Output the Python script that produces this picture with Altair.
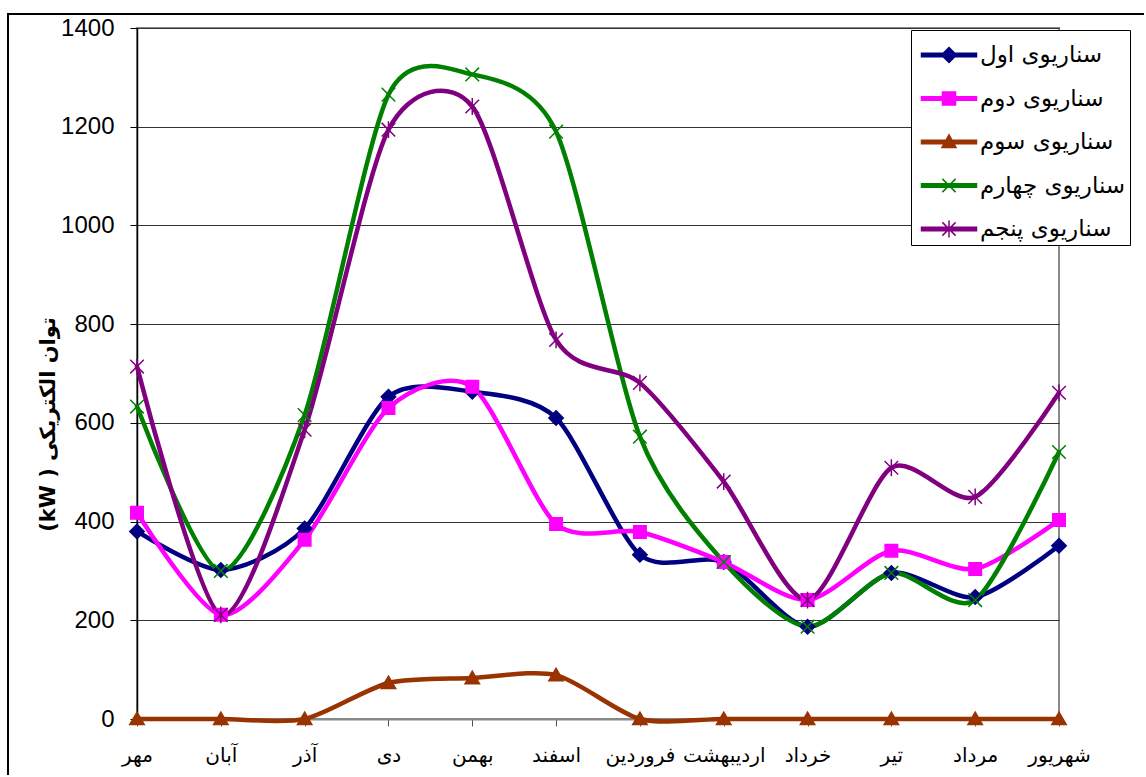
import altair as alt
import pandas as pd

# Months of the Persian calendar, in chart order
months = ["مهر", "آبان", "آذر", "دی", "بهمن", "اسفند",
          "فروردین", "اردیبهشت", "خرداد", "تیر", "مرداد", "شهریور"]

series_names = ["سناریوی اول", "سناریوی دوم", "سناریوی سوم",
                "سناریوی چهارم", "سناریوی پنجم"]

# Electrical power per month (kW) for each scenario
s1 = [380, 302, 386, 653, 663, 610, 333, 318, 187, 296, 247, 351]
s2 = [418, 211, 363, 630, 673, 395, 379, 318, 241, 341, 304, 403]
s3 = [0, 0, 0, 73, 83, 89, 0, 0, 0, 0, 0, 0]
s4 = [633, 300, 616, 1265, 1306, 1190, 572, 318, 187, 296, 241, 541]
s5 = [714, 211, 586, 1194, 1241, 768, 681, 481, 241, 509, 450, 661]

colors = ["#000080", "#FF00FF", "#993300", "#008000", "#800080"]

# Marker outlines: diamond, square, triangle, x, asterisk
marker_paths = [
    "M0,-0.9L0.9,0L0,0.9L-0.9,0Z",
    "M-0.78,-0.78H0.78V0.78H-0.78Z",
    "M0,-0.85L0.9,0.7L-0.9,0.7Z",
    "M-0.85,-0.85L0.85,0.85M-0.85,0.85L0.85,-0.85",
    "M-0.85,-0.85L0.85,0.85M-0.85,0.85L0.85,-0.85M0,-1.05V1.05",
]

# Legend swatches: a short line segment with the series marker on it
bar = "M-0.725,-0.09H2.025V0.09H-0.725Z"
legend_paths = [
    bar + "M0.65,-0.375L1.025,0L0.65,0.375L0.275,0Z",
    bar + "M0.325,-0.325H0.975V0.325H0.325Z",
    bar + "M0.65,-0.36L1.0,0.27L0.3,0.27Z",
    bar + "M0.32,-0.33L0.98,0.33M0.32,0.33L0.98,-0.33",
    bar + "M0.32,-0.33L0.98,0.33M0.32,0.33L0.98,-0.33M0.65,-0.42V0.42",
]

rows = []
for name, vals in zip(series_names, [s1, s2, s3, s4, s5]):
    for m, v in zip(months, vals):
        rows.append({"month": m, "series": name, "value": v})
df = pd.DataFrame(rows)

x_enc = alt.X("month:N", sort=months, scale=alt.Scale(padding=0),
              axis=alt.Axis(title=None, labelAngle=0, labelFontSize=20,
                            labelFont="DejaVu Sans", labelColor="black",
                            tickSize=7, tickColor="#555", domainColor="#888",
                            domainWidth=2, labelPadding=19, grid=False))
y_enc = alt.Y("value:Q", scale=alt.Scale(domain=[0, 1400], nice=False),
              axis=alt.Axis(values=[0, 200, 400, 600, 800, 1000, 1200, 1400],
                            format="d",
                            title="(kW ) توان الکتریکی", titleFont="DejaVu Sans",
                            titleFontSize=21, titleFontWeight="bold",
                            titleColor="black", titleAngle=-90,
                            titleBaseline="middle", titleAlign="center",
                            titleX=-89, titleY=396,
                            labelFont="Liberation Sans", labelFontSize=24,
                            labelColor="black", labelPadding=16,
                            tickSize=7, tickColor="black",
                            domainColor="black", domainWidth=1.5,
                            grid=True, gridColor="#333", gridWidth=1))

color_scale = alt.Scale(domain=series_names, range=colors)

frame = alt.Chart(df).mark_rect(fill=None, stroke="black", strokeWidth=1.5).encode(
    x=alt.value(-129), y=alt.value(-14), x2=alt.value(2000), y2=alt.value(2000)
)

lines = alt.Chart(df).mark_line(
    interpolate="cardinal", tension=0.22, strokeWidth=4.5,
    strokeCap="round", strokeJoin="round"
).encode(
    x=x_enc, y=y_enc,
    color=alt.Color("series:N", scale=color_scale, legend=None),
)

points = alt.Chart(df).mark_point(filled=True, size=256, strokeWidth=1.5, opacity=1).encode(
    x=x_enc, y=y_enc,
    color=alt.Color("series:N", scale=color_scale, legend=None),
    stroke=alt.Stroke("series:N", scale=color_scale, legend=None),
    shape=alt.Shape("series:N", scale=alt.Scale(domain=series_names, range=marker_paths),
                    legend=None),
)

legend_def = alt.Legend(
    title=None, orient="none", legendX=774, legendY=2,
    strokeColor="black", fillColor="white", padding=4,
    labelFont="DejaVu Sans", labelFontSize=23, labelColor="black",
    labelLimit=400, labelOffset=23,
    symbolSize=1600, symbolStrokeWidth=1.5, rowPadding=10.5,
)

legend_layer = alt.Chart(df).transform_filter("datum.value < -1").mark_point(
    filled=True, strokeWidth=1.5, opacity=1
).encode(
    x=x_enc, y=y_enc,
    color=alt.Color("series:N", scale=color_scale, legend=legend_def),
    stroke=alt.Stroke("series:N", scale=color_scale, legend=legend_def),
    shape=alt.Shape("series:N", scale=alt.Scale(domain=series_names, range=legend_paths),
                    legend=legend_def),
)

chart = alt.layer(frame, lines, points, legend_layer).resolve_scale(
    color="independent", shape="independent", stroke="independent"
).properties(
    width=922, height=691,
    autosize=alt.AutoSizeParams(type="none"),
    padding={"left": 137, "top": 28, "right": 85, "bottom": 56},
).configure_view(
    stroke="#888", strokeWidth=2
)

chart.save("out.html", embed_options={"renderer": "svg", "actions": False})
